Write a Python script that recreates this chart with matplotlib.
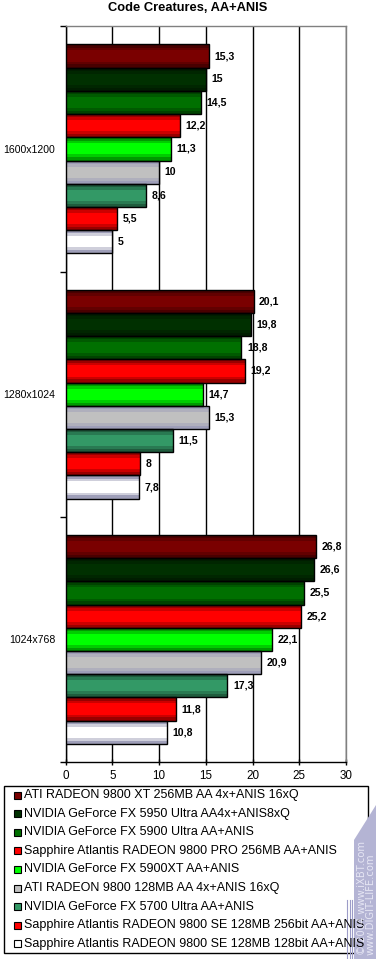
import matplotlib
matplotlib.use("Agg")
import matplotlib.pyplot as plt
import matplotlib.colors as mcolors
from matplotlib.patches import Rectangle, Polygon
import numpy as np

plt.rcParams['font.family'] = ['Liberation Sans', 'DejaVu Sans']

title = "Code Creatures, AA+ANIS"
categories = ["1600x1200", "1280x1024", "1024x768"]
series_names = [
    "ATI RADEON 9800 XT 256MB AA 4x+ANIS 16xQ",
    "NVIDIA GeForce FX 5950 Ultra AA4x+ANIS8xQ",
    "NVIDIA GeForce FX 5900 Ultra AA+ANIS",
    "Sapphire Atlantis RADEON 9800 PRO 256MB AA+ANIS",
    "NVIDIA GeForce FX 5900XT AA+ANIS",
    "ATI RADEON 9800 128MB AA 4x+ANIS 16xQ",
    "NVIDIA GeForce FX 5700 Ultra AA+ANIS",
    "Sapphire Atlantis RADEON 9800 SE 128MB 256bit AA+ANIS",
    "Sapphire Atlantis RADEON 9800 SE 128MB 128bit AA+ANIS",
]
values = [
    [15.3, 20.1, 26.8],
    [15.0, 19.8, 26.6],
    [14.5, 18.8, 25.5],
    [12.2, 19.2, 25.2],
    [11.3, 14.7, 22.1],
    [10.0, 15.3, 20.9],
    [8.6, 11.5, 17.3],
    [5.5, 8.0, 11.8],
    [5.0, 7.8, 10.8],
]
colors = ["#7a0000", "#003000", "#007000", "#ff0000", "#00ff00",
          "#c0c0c0", "#339966", "#ff0000", "#ffffff"]
xticks = [0, 5, 10, 15, 20, 25, 30]

W, H = 376, 959
fig = plt.figure(figsize=(W / 100, H / 100), dpi=100)
ax = fig.add_axes([65.7 / W, (H - 762) / H, (346 - 65.7) / W, (762 - 26.3) / H])

n = len(series_names)
bh = 0.0947
gap = (1 - n * bh) / 2
ypos = np.arange(len(categories))

def shade(c, f):
    r, g, b = mcolors.to_rgb(c)
    return (r * f, g * f, b * f)

def edge_tint(c):
    r, g, b = mcolors.to_rgb(c)
    if min(r, g, b) > 0.6:  # grey / white bars get bluish-grey edges
        return (0.62, 0.62, 0.72)
    return shade(c, 0.6)

for j in range(n):
    off = -0.5 + gap + (j + 0.5) * bh
    yy = ypos + off
    base = colors[j]
    ec = edge_tint(base)
    r, g, b = mcolors.to_rgb(base)
    mid = tuple((a + e) / 2 for a, e in zip((r, g, b), ec))
    ax.barh(yy, values[j], height=bh, color=ec, linewidth=0, zorder=3)
    ax.barh(yy, values[j], height=bh * 0.72, color=mid, linewidth=0, zorder=3)
    ax.barh(yy, values[j], height=bh * 0.48, color=base, linewidth=0, zorder=3)
    ax.barh(yy, values[j], height=bh, facecolor='none', edgecolor='black',
            linewidth=1.0, zorder=4)
    for k, v in enumerate(values[j]):
        lbl = ("%g" % v).replace(".", ",")
        ax.annotate(lbl, (v, yy[k]), xytext=(4, 0), textcoords='offset points',
                    ha='left', va='center', fontsize=7.6, fontweight='bold',
                    zorder=5)

ax.set_xlim(0, 30)
ax.set_ylim(len(categories) - 0.5, -0.5)
ax.set_xticks(xticks)
ax.set_xticklabels([str(t) for t in xticks], fontsize=8.4)
ax.set_yticks(np.arange(-0.5, len(categories), 1.0))
ax.set_yticklabels([])
ax.set_yticks(ypos, minor=True)
ax.set_yticklabels(categories, minor=True, fontsize=7.6)
ax.tick_params(axis='y', which='minor', length=0, pad=7.5)
ax.tick_params(axis='y', which='major', length=4, width=1, direction='out')
ax.tick_params(axis='x', length=4, width=1, direction='inout', pad=4)
ax.xaxis.grid(True, color='black', linewidth=1, zorder=1)
ax.set_axisbelow(True)
ax.spines['left'].set_color('black')
ax.spines['bottom'].set_color('black')
ax.spines['top'].set_color('#808080')
ax.spines['right'].set_color('#808080')
for s in ax.spines.values():
    s.set_linewidth(1)

fig.text(188 / W, 1 - 8 / H, title, ha='center', va='center',
         fontsize=9.3, fontweight='bold')

# legend
lx0, ly0, lx1, ly1 = 4.3, 786, 368, 953
fig.patches.append(Rectangle((lx0 / W, 1 - ly1 / H), (lx1 - lx0) / W,
                             (ly1 - ly0) / H, transform=fig.transFigure,
                             facecolor='white', edgecolor='black', linewidth=1))

# watermark band
band = Polygon([(376 / W, 1 - 805 / H), (354 / W, 1 - 840 / H),
                (354 / W, 0), (376 / W, 0)], closed=True,
               transform=fig.transFigure, facecolor='#b4b4d4',
               edgecolor='none', zorder=2)
fig.patches.append(band)
for xl in [347, 349.5, 352]:
    fig.lines.append(plt.Line2D([xl / W, xl / W], [0, 1 - 900 / H],
                                transform=fig.transFigure, color='#9c9cc8',
                                linewidth=0.8, zorder=2))

for j, name in enumerate(series_names):
    yc = 795 + j * 18.6
    fig.patches.append(Rectangle((14 / W, 1 - (yc + 3.5) / H), 7 / W, 7 / H,
                                 transform=fig.transFigure,
                                 facecolor=colors[j], edgecolor='black',
                                 linewidth=0.8, zorder=3))
    fig.text(24.5 / W, 1 - yc / H, name, ha='left', va='center',
             fontsize=9.0, zorder=4)

fig.text(362 / W, 1 - 955 / H, "© 2004 www.iXBT.com", rotation=90,
         ha='center', va='bottom', fontsize=7.2, color='#e6e6f4', zorder=5,
         family='DejaVu Sans')
fig.text(371 / W, 1 - 955 / H, "www.DIGIT-LIFE.com", rotation=90,
         ha='center', va='bottom', fontsize=7.2, color='#e6e6f4', zorder=5,
         family='DejaVu Sans')

fig.savefig("out.png", dpi=100, facecolor='white')
